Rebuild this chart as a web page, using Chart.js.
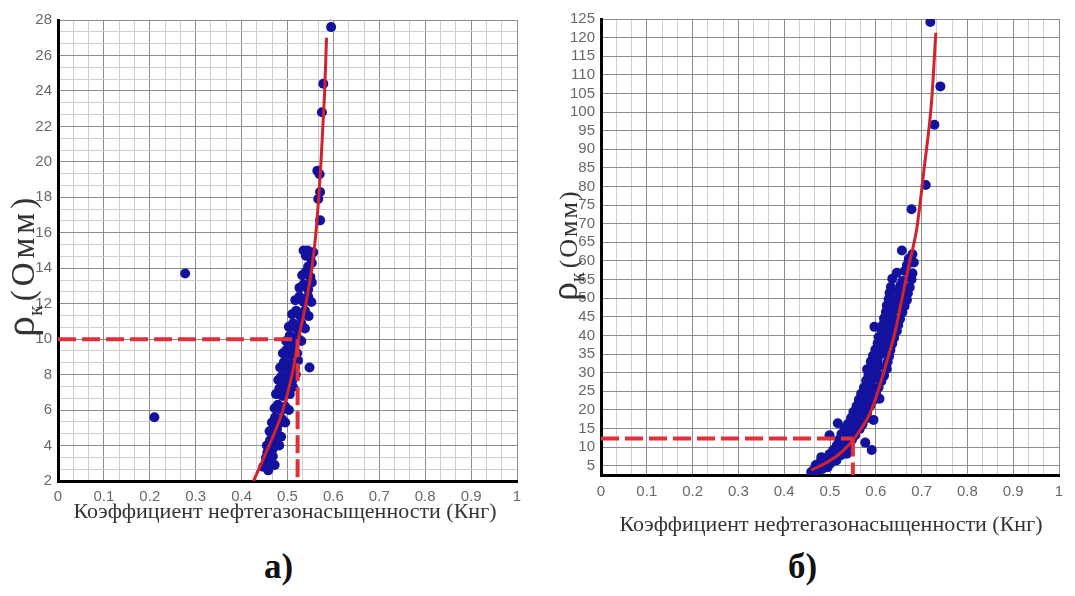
<!DOCTYPE html>
<html>
<head>
<meta charset="utf-8">
<script src="https://cdn.jsdelivr.net/npm/chart.js@4.4.1/dist/chart.umd.min.js"></script>
<style>
  body { margin: 0; background: #fff; width: 1075px; height: 596px; overflow: hidden; position: relative; }
  #chartA { position: absolute; left: 0; top: 0; }
  #chartB { position: absolute; left: 540px; top: 0; }
  .cap { position: absolute; top: 547px; font: bold 35px "Liberation Serif", "DejaVu Serif", serif; color: #111; }
</style>
</head>
<body>
<canvas id="chartA" width="540" height="540"></canvas>
<canvas id="chartB" width="535" height="540"></canvas>
<div class="cap" style="left:264px">а)</div>
<div class="cap" style="left:788px">б)</div>
<script>
// --- data ---
const xTickLabels = ['0', '0.1', '0.2', '0.3', '0.4', '0.5', '0.6', '0.7', '0.8', '0.9', '1'];
const yTickLabelsA = [2, 4, 6, 8, 10, 12, 14, 16, 18, 20, 22, 24, 26, 28];
const yTickLabelsB = [5, 10, 15, 20, 25, 30, 35, 40, 45, 50, 55, 60, 65, 70, 75, 80, 85, 90, 95, 100, 105, 110, 115, 120, 125];
const xTitle = 'Коэффициент нефтегазонасыщенности (Кнг)';

// chart а): measured points (Кнг, ρк)
const pointsA = [
  [0.21, 5.6], [0.277, 13.7],
  [0.447, 2.8], [0.453, 3.3], [0.458, 2.6], [0.463, 3.0], [0.468, 3.4], [0.456, 3.6], [0.472, 2.9],
  [0.455, 4.0], [0.462, 4.3], [0.468, 3.8], [0.475, 4.2], [0.482, 4.0], [0.461, 4.8], [0.469, 4.6], [0.477, 4.9], [0.486, 4.5],
  [0.466, 5.3], [0.473, 5.6], [0.48, 5.2], [0.488, 5.5], [0.495, 5.3], [0.472, 6.1], [0.479, 6.3], [0.487, 6.0], [0.495, 6.2], [0.503, 6.0],
  [0.475, 6.9], [0.482, 7.2], [0.489, 6.8], [0.497, 7.1], [0.505, 6.9], [0.512, 7.3],
  [0.48, 7.7], [0.487, 7.9], [0.495, 7.6], [0.503, 7.9], [0.511, 7.7], [0.518, 8.0],
  [0.484, 8.4], [0.492, 8.7], [0.5, 8.3], [0.508, 8.6], [0.516, 8.4], [0.523, 8.8], [0.548, 8.4],
  [0.49, 9.2], [0.498, 9.4], [0.505, 9.1], [0.513, 9.4], [0.521, 9.2],
  [0.497, 9.9], [0.505, 10.2], [0.512, 9.8], [0.521, 10.1], [0.53, 9.9],
  [0.503, 10.7], [0.512, 10.9], [0.52, 10.6], [0.53, 10.9], [0.538, 10.6],
  [0.51, 11.4], [0.519, 11.6], [0.528, 11.3], [0.538, 11.6], [0.546, 11.3],
  [0.517, 12.2], [0.526, 12.4], [0.535, 12.1], [0.545, 12.4], [0.552, 12.1],
  [0.526, 12.9], [0.535, 13.1], [0.545, 12.8], [0.553, 13.2], [0.532, 13.6], [0.54, 13.8], [0.55, 13.5],
  [0.545, 14.1], [0.553, 14.3], [0.54, 14.7], [0.535, 15.0], [0.556, 14.9], [0.55, 14.6], [0.544, 15.0],
  [0.567, 17.9], [0.571, 16.7], [0.571, 18.3], [0.565, 19.5], [0.57, 19.3],
  [0.575, 22.8], [0.578, 24.4], [0.595, 27.6]
];
// chart а): fitted curve
const curveA = [
  [0.426, 2], [0.46, 4], [0.49, 6], [0.51, 8], [0.524, 10], [0.54, 12], [0.553, 14],
  [0.562, 16], [0.568, 18], [0.573, 20], [0.577, 22], [0.581, 24], [0.585, 27]
];
// chart а): reading of ρк = 10
const guideA = { x: 0.522, y: 10 };

// chart б): measured points
const pointsB = [
  [0.459, 3.3], [0.465, 4.0], [0.471, 3.6], [0.477, 4.5], [0.483, 4.1], [0.489, 5.0], [0.495, 4.6], [0.469, 5.2], [0.501, 5.6], [0.479, 6.0],
  [0.481, 7.3], [0.494, 6.6], [0.504, 7.0], [0.514, 6.4], [0.499, 8.1], [0.512, 8.4], [0.524, 7.8], [0.507, 9.2], [0.519, 9.6], [0.531, 9.0], [0.537, 8.2],
  [0.515, 10.5], [0.528, 10.9], [0.54, 10.4], [0.52, 12.0], [0.535, 12.4], [0.548, 12.0], [0.525, 13.5], [0.54, 13.9], [0.555, 13.2],
  [0.532, 15.0], [0.55, 14.7], [0.565, 14.9], [0.499, 13.2], [0.517, 16.4], [0.577, 11.2], [0.591, 9.2],
  [0.539, 16.2], [0.556, 16.6], [0.571, 16.1], [0.546, 17.8], [0.561, 18.3], [0.577, 17.6], [0.595, 17.3], [0.551, 19.4], [0.566, 19.9], [0.581, 19.2],
  [0.558, 21.0], [0.573, 21.5], [0.588, 21.1], [0.563, 22.7], [0.578, 23.2], [0.595, 22.6], [0.568, 24.3], [0.585, 24.8], [0.601, 24.2], [0.608, 23.0],
  [0.581, 26.7], [0.574, 26.0], [0.589, 26.4], [0.606, 26.0], [0.579, 27.9], [0.594, 28.3], [0.612, 27.7], [0.584, 29.5], [0.602, 29.9], [0.618, 29.2],
  [0.581, 30.9], [0.592, 31.3], [0.608, 31.8], [0.624, 31.0], [0.589, 33.0], [0.604, 33.4], [0.626, 32.9], [0.594, 34.6], [0.612, 35.0], [0.629, 34.4],
  [0.599, 36.2], [0.616, 36.7], [0.632, 36.1], [0.604, 37.9], [0.621, 38.4], [0.636, 37.8], [0.606, 39.5], [0.624, 40.0], [0.64, 39.4],
  [0.597, 42.3], [0.613, 41.1], [0.63, 41.7], [0.646, 41.2], [0.616, 42.9], [0.633, 43.4], [0.649, 42.8], [0.618, 44.6], [0.636, 45.0], [0.653, 44.4],
  [0.622, 46.3], [0.64, 46.8], [0.658, 46.2], [0.624, 48.0], [0.643, 48.5], [0.663, 47.9], [0.628, 49.7], [0.648, 50.1], [0.668, 49.5],
  [0.63, 51.4], [0.65, 51.9], [0.67, 51.3], [0.633, 53.0], [0.654, 53.5], [0.674, 52.9], [0.636, 55.2], [0.658, 54.6], [0.678, 55.0],
  [0.646, 56.8], [0.663, 57.3], [0.68, 56.7], [0.668, 58.9], [0.683, 59.6], [0.672, 60.6], [0.657, 62.8], [0.68, 61.8],
  [0.678, 73.9], [0.709, 80.4], [0.728, 96.6], [0.741, 106.9], [0.719, 124.2]
];
// chart б): fitted curve
const curveB = [
  [0.459, 3.8], [0.489, 5.6], [0.519, 8], [0.545, 11.1], [0.566, 14.6], [0.587, 19], [0.601, 23.5],
  [0.623, 32.5], [0.643, 41.4], [0.658, 50.4], [0.673, 59.3], [0.689, 68.3], [0.706, 85.3], [0.722, 103.2], [0.731, 121.3]
];
// chart б): reading of ρк = 12.3
const guideB = { x: 0.55, y: 12.3 };

const tickFont = { family: '"Liberation Sans", Arial, sans-serif', size: 15 };
const serif = '"Liberation Serif", "DejaVu Serif", serif';

function toXY(list) { return list.map(p => ({ x: p[0], y: p[1] })); }

// fine grid: three cells per labelled step
function gridTicks(min, max, step, every) {
  const out = [];
  let i = 0;
  for (let v = min; v <= max + 1e-9; v += step, i++) out.push({ value: +v.toFixed(6), major: i % every === 0 });
  return out;
}

// axis titles drawn on the canvas (y title needs a subscript)
const axisText = {
  id: 'axisText',
  afterDraw(chart, args, o) {
    const ctx = chart.ctx;
    ctx.save();
    ctx.fillStyle = '#333';
    ctx.textBaseline = 'alphabetic';
    ctx.textAlign = 'center';
    ctx.font = o.xSize + 'px ' + serif;
    ctx.fillText(xTitle, o.xTitleX, o.xTitleY);

    ctx.translate(o.yTitleX, o.yTitleY);
    ctx.rotate(-Math.PI / 2);
    ctx.textAlign = 'left';
    ctx.font = o.rhoSize + 'px ' + serif;
    ctx.fillText('ρ', 0, 0);
    let w = ctx.measureText('ρ').width;
    ctx.font = o.subSize + 'px ' + serif;
    ctx.fillText('к', w, o.subSize * 0.35);
    w += ctx.measureText('к').width + 4;
    ctx.font = o.unitSize + 'px ' + serif;
    ctx.letterSpacing = o.spacing + 'px';
    ctx.fillText('(Омм)', w, 0);
    ctx.restore();
  }
};

function makeChart(id, cfg) {
  const lineSet = (data, extra) => Object.assign({
    type: 'line', data: toXY(data), borderColor: '#d8232f', borderWidth: 3,
    pointRadius: 0, fill: false, showLine: true
  }, extra);
  return new Chart(document.getElementById(id), {
    type: 'scatter',
    data: {
      datasets: [
        lineSet([[0, cfg.guide.y], [cfg.guide.x, cfg.guide.y]], { borderDash: [18, 6], borderWidth: 4, borderColor: '#e0303c' }),
        lineSet([[cfg.guide.x, cfg.guide.y], [cfg.guide.x, cfg.yMin]], { borderDash: [18, 6], borderWidth: 4, borderColor: '#e0303c' }),
        lineSet(cfg.curve, { cubicInterpolationMode: 'monotone', borderColor: '#d2222c' }),
        {
          data: toXY(cfg.points), backgroundColor: '#12129e', borderColor: '#1a1aa6',
          borderWidth: 0, pointRadius: 5, pointHoverRadius: 5
        }
      ]
    },
    options: {
      responsive: false,
      animation: false,
      devicePixelRatio: 1,
      layout: { padding: cfg.padding },
      plugins: { legend: { display: false }, tooltip: { enabled: false }, axisText: cfg.text },
      scales: {
        x: {
          type: 'linear', min: 0, max: 1,
          afterBuildTicks: s => { s.ticks = gridTicks(0, 1, 1 / 30, 3); },
          afterFit: s => { s.height = cfg.xHeight; },
          border: { color: '#000', width: 3 },
          grid: { drawTicks: false, color: c => (c.tick && c.tick.major) ? '#8c8c8c' : '#cfcfcf', lineWidth: 1 },
          ticks: {
            autoSkip: false, maxRotation: 0, padding: cfg.xPad, color: '#686868', font: tickFont,
            callback: (v, i, t) => t[i].major ? xTickLabels[Math.round(v * 10)] : ''
          }
        },
        y: {
          type: 'linear', min: cfg.yMin, max: cfg.yMax,
          afterBuildTicks: cfg.yTicks,
          afterFit: s => { s.width = cfg.yWidth; },
          border: { color: '#000', width: 3 },
          grid: { drawTicks: false, color: c => (c.tick && c.tick.major) ? '#8c8c8c' : '#cfcfcf', lineWidth: 1 },
          ticks: {
            autoSkip: false, padding: 6, color: '#686868', font: tickFont,
            callback: (v, i, t) => t[i].major ? String(cfg.yLabels.find(l => Math.abs(l - v) < 1e-6)) : ''
          }
        }
      }
    },
    plugins: [axisText]
  });
}

makeChart('chartA', {
  points: pointsA, curve: curveA, guide: guideA,
  yMin: 2, yMax: 28, yLabels: yTickLabelsA,
  yTicks: s => { s.ticks = gridTicks(2, 28, 2 / 3, 3); },
  padding: { left: 0, top: 20, right: 23, bottom: 0 },
  xHeight: 59, yWidth: 58, xPad: 7,
  text: { xSize: 22, xTitleX: 285, xTitleY: 518, yTitleX: 34, yTitleY: 337, rhoSize: 42, subSize: 22, unitSize: 33, spacing: 4 }
});

makeChart('chartB', {
  points: pointsB, curve: curveB, guide: guideB,
  yMin: 2.5, yMax: 125, yLabels: yTickLabelsB,
  yTicks: s => { s.ticks = yTickLabelsB.map(v => ({ value: v, major: true })); },
  padding: { left: 0, top: 19, right: 16, bottom: 0 },
  xHeight: 65, yWidth: 61, xPad: 8,
  text: { xSize: 22, xTitleX: 291, xTitleY: 531, yTitleX: 37, yTitleY: 301, rhoSize: 38, subSize: 20, unitSize: 26, spacing: 2 }
});
</script>
</body>
</html>
